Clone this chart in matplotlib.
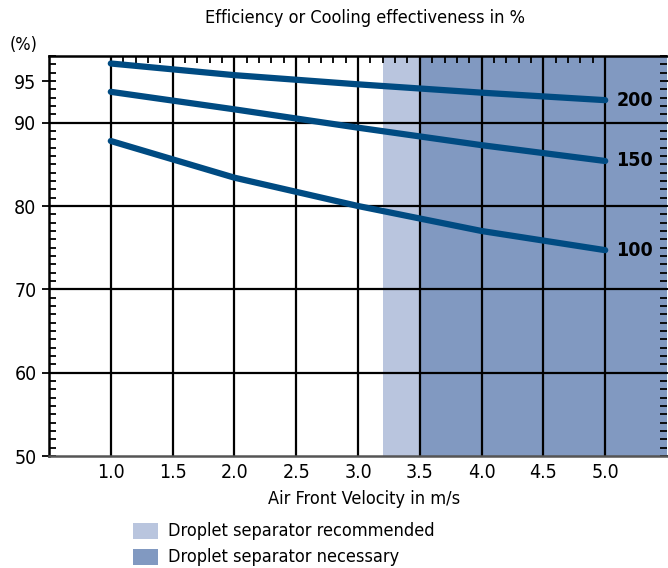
import matplotlib
matplotlib.use("Agg")
import matplotlib.pyplot as plt
from matplotlib.patches import Rectangle
from matplotlib.ticker import MultipleLocator, FixedLocator

plt.rcParams['font.family'] = ['DejaVu Sans']
plt.rcParams['font.stretch'] = 'condensed'

velocity = [1.0, 2.0, 3.0, 4.0, 5.0]
eff_200 = [97.1, 95.7, 94.6, 93.6, 92.7]
eff_150 = [93.7, 91.6, 89.4, 87.3, 85.4]
eff_100 = [87.8, 83.4, 80.0, 77.0, 74.7]
series = [("200", eff_200), ("150", eff_150), ("100", eff_100)]

x_ticks = [1.0, 1.5, 2.0, 2.5, 3.0, 3.5, 4.0, 4.5, 5.0]
y_ticks = [50, 60, 70, 80, 90, 95]
y_grid = [60, 70, 80, 90]
recommended = (3.2, 3.5)
necessary = (3.5, 5.5)

line_color = '#004b82'
light = '#b9c5de'
dark = '#8199c1'

fig = plt.figure(figsize=(6.68, 5.68), dpi=100)
ax = fig.add_axes([49/668, 1-456/568, (667-49)/668, (456-56)/568])
ax.set_xlim(0.5, 5.5)
ax.set_ylim(50, 98)

ax.axvspan(*recommended, color=light, lw=0, zorder=0)
ax.axvspan(*necessary, color=dark, lw=0, zorder=0)

for xv in x_ticks:
    ax.axvline(xv, color='black', lw=1.6, zorder=1)
for yv in y_grid:
    ax.axhline(yv, color='black', lw=1.6, zorder=1)

for lab, vals in series:
    ax.plot(velocity, vals, color=line_color, lw=4.5, solid_capstyle='round', zorder=3)
    ax.text(velocity[-1] + 0.09, vals[-1], lab, fontsize=14, fontweight='bold',
            va='center', ha='left', zorder=4)

ax.set_xticks(x_ticks)
ax.set_xticklabels([f"{v:.1f}" for v in x_ticks], fontsize=14)
ax.tick_params(axis='x', which='major', length=0, pad=5)
top_minor = [round(1.0 + 0.1 * i, 1) for i in range(41)]
ax.xaxis.set_minor_locator(FixedLocator(top_minor))
ax.tick_params(axis='x', which='minor', bottom=False, top=True, direction='in', length=5, width=1.3)

ax.set_yticks(y_ticks)
ax.set_yticklabels([str(v) for v in y_ticks], fontsize=14)
ax.tick_params(axis='y', which='major', direction='inout', length=10, width=1.3, left=True, right=True, pad=4)
ax.yaxis.set_minor_locator(MultipleLocator(1))
ax.tick_params(axis='y', which='minor', direction='in', length=5, width=1.3, left=True, right=True)

for sp in ['left', 'top', 'right']:
    ax.spines[sp].set_linewidth(1.8)
ax.spines['bottom'].set_linewidth(1.8)
ax.spines['bottom'].set_color('#555555')
ax.spines['right'].set_visible(False)

ax.set_xlabel("Air Front Velocity in m/s", fontsize=13, labelpad=1)
ax.xaxis.set_label_coords(0.51, -0.085)
fig.text(365/668, 1-18/568, "Efficiency or Cooling effectiveness in %", fontsize=13,
         ha='center', va='center')
fig.text(24/668, 1-45/568, "(%)", fontsize=13, ha='center', va='center')

legend_items = [("Droplet separator recommended", light), ("Droplet separator necessary", dark)]
for i, (txt, col) in enumerate(legend_items):
    yc = 531 + i * 26
    fig.patches.append(Rectangle((133/668, 1-(yc+8)/568), 25/668, 16/568,
                                 transform=fig.transFigure, color=col, lw=0))
    fig.text(168/668, 1-yc/568, txt, fontsize=13, ha='left', va='center')

fig.savefig("out.png", dpi=100)
